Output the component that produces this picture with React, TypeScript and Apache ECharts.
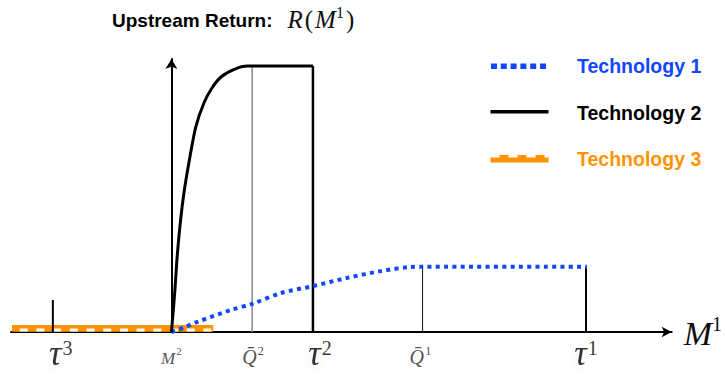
import React, { useEffect, useRef } from "react";
import * as echarts from "echarts";

// Conceptual units: x = output M^1 (M^2 at 0), y = upstream return
const tech1X = [0, 2.6, 5.2, 12, 16.2, 22, 28.4, 35.2, 42, 48, 50.4, 83.4];
const tech1Y = [0, 1.7, 3.7, 8.1, 10.3, 14.3, 16.8, 19.8, 22.3, 23.8, 23.9, 23.9];

const tech2X = [0, 0.26, 0.7, 1.1, 1.7, 2.5, 3.6, 4.9, 6.5, 8.1, 10, 12.6, 15.2, 16.2, 28.4];
const tech2Y = [0, 5.6, 15.4, 26.4, 38.6, 50.8, 63.0, 75.2, 83.8, 89.3, 93.5, 96.2, 97.4, 97.4, 97.4];

const tech3X = [-32, 8.4];
const tech3Y = [1.3, 1.3];

// threshold markers on the M^1 axis
const markerKeys = ["tau3", "M2", "Qbar2", "tau2", "Qbar1", "tau1"];
const markerX = [-23.8, 0, 16.2, 28.4, 50.4, 83.2];
const markerTop = [11.7, 0, 97.4, 97.4, 23.9, 23.9];
const markerLabels = [
  "{t|τ}{ts|3}",
  "{m|M}{ms|2}",
  "{q|Q\u0304}{qs|2}",
  "{t|τ}{ts|2}",
  "{q|Q\u0304}{qs|1}",
  "{t|τ}{ts|1}",
];

const legendNames = ["Technology 1", "Technology 2", "Technology 3"];

const BLUE = "#1346ff";
const ORANGE = "#ff9300";

const verticalStyle: Record<string, { color: string; width: number }> = {
  tau3: { color: "#000", width: 2 },
  Qbar2: { color: "#8a8a8a", width: 1.5 },
  tau2: { color: "#000", width: 2.5 },
  Qbar1: { color: "#111", width: 1 },
  tau1: { color: "#000", width: 2 },
};
const labelOffset: Record<string, [number, number]> = {
  tau3: [8, 1],
  M2: [0, 7],
  Qbar2: [1, 5],
  tau2: [7, 1],
  Qbar1: [-2, 5],
  tau1: [0, 1],
};

const SERIF = '"Liberation Serif", "DejaVu Serif", serif';
const SANS = '"Liberation Sans", Arial, Helvetica, sans-serif';

export default function App() {
  const ref = useRef<HTMLDivElement>(null);
  useEffect(() => {
    document.body.style.margin = "0";
    if (!ref.current) return;
    const chart = echarts.init(ref.current, null, { renderer: "svg" });

    const verticalSeries = markerKeys
      .map((k, i) => ({ k, i }))
      .filter(({ i }) => markerTop[i] > 0)
      .map(({ k, i }) => ({
        type: "line",
        name: "v-" + k,
        z: 4,
        silent: true,
        symbol: "none",
        data: [
          [markerX[i], 0],
          [markerX[i], markerTop[i]],
        ],
        lineStyle: { color: verticalStyle[k].color, width: verticalStyle[k].width, cap: "butt" },
      }));

    const legendY = [66.3, 111.7, 158.8];
    const graphic: any[] = [
      {
        type: "line",
        shape: { x1: 491, y1: legendY[0], x2: 547, y2: legendY[0] },
        style: { stroke: BLUE, lineWidth: 5.5, lineDash: [6, 3.8] },
      },
      {
        type: "line",
        shape: { x1: 490.5, y1: legendY[1], x2: 548.5, y2: legendY[1] },
        style: { stroke: "#000", lineWidth: 3.5 },
      },
      {
        type: "line",
        shape: { x1: 490.5, y1: legendY[2], x2: 548.5, y2: legendY[2] },
        style: { stroke: ORANGE, lineWidth: 7.5 },
      },
      {
        type: "line",
        shape: { x1: 490.5, y1: legendY[2] - 2.6, x2: 548.5, y2: legendY[2] - 2.6 },
        style: { stroke: "#fff", lineWidth: 2.4, lineDash: [9, 9], lineDashOffset: 0 },
      },
    ];
    const legendColors = [BLUE, "#000", ORANGE];
    legendNames.forEach((n, i) => {
      graphic.push({
        type: "text",
        x: 577,
        y: [66, 113.3, 159][i],
        style: {
          text: n,
          fill: legendColors[i],
          fontSize: 19.5,
          fontWeight: "bold",
          fontFamily: SANS,
          verticalAlign: "middle",
          align: "left",
        },
      });
    });

    chart.setOption({
      animation: false,
      backgroundColor: "#fff",
      title: {
        left: 112,
        top: 2,
        padding: 0,
        text: "{b|Upstream Return:}{r0|R}{p|(}{r|M}{s|1}{p|)}",
        textStyle: {
          fontWeight: "normal",
          rich: {
            b: { fontFamily: SANS, fontWeight: "bold", fontSize: 19, color: "#000", lineHeight: 30, verticalAlign: "bottom", padding: [0, 0, 2, 0] },
            r0: { fontFamily: SERIF, fontStyle: "italic", fontWeight: "normal", fontSize: 25, color: "#111", lineHeight: 30, verticalAlign: "bottom", padding: [0, 0, 0, 15] },
            r: { fontFamily: SERIF, fontStyle: "italic", fontWeight: "normal", fontSize: 25, color: "#111", lineHeight: 30, verticalAlign: "bottom" },
            p: { fontFamily: SERIF, fontWeight: "normal", fontSize: 25, color: "#111", lineHeight: 30, verticalAlign: "bottom", padding: [0, 2, 0, 2] },
            s: { fontFamily: SERIF, fontWeight: "normal", fontSize: 16, color: "#111", lineHeight: 30, verticalAlign: "top", padding: [2, 0, 0, 0] },
          },
        },
      },
      grid: { left: 11, right: 51, top: 59, bottom: 44, containLabel: false },
      xAxis: {
        type: "value",
        min: -32.2,
        max: 100.4,
        splitLine: { show: false },
        axisTick: { show: false },
        axisLabel: { show: false },
        axisLine: {
          show: true,
          onZero: true,
          symbol: ["none", "arrow"],
          symbolSize: [8, 10],
          lineStyle: { color: "#000", width: 2 },
        },
        name: "{m|M}{s|1}",
        nameLocation: "end",
        nameGap: 12,
        nameTextStyle: {
          rich: {
            m: { fontFamily: SERIF, fontStyle: "italic", fontSize: 34, color: "#111", lineHeight: 36, verticalAlign: "bottom" },
            s: { fontFamily: SERIF, fontSize: 20, color: "#111", lineHeight: 36, verticalAlign: "top" },
          },
        },
      },
      yAxis: {
        type: "value",
        min: 0,
        max: 100,
        z: 3,
        splitLine: { show: false },
        axisTick: { show: false },
        axisLabel: { show: false },
        axisLine: {
          show: true,
          onZero: true,
          symbol: ["none", "arrow"],
          symbolSize: [9, 10],
          lineStyle: { color: "#000", width: 2 },
        },
      },
      graphic,
      series: [
        {
          type: "line",
          name: "Technology 3",
          z: 1,
          silent: true,
          symbol: "none",
          data: tech3X.map((x, i) => [x, tech3Y[i]]),
          lineStyle: { color: ORANGE, width: 6.8, cap: "butt" },
        },
        {
          type: "line",
          name: "Technology 3 stripes",
          z: 1,
          silent: true,
          symbol: "none",
          data: tech3X.map((x, i) => [x, tech3Y[i] - 0.6]),
          lineStyle: { color: "#fff", width: 3, type: [8, 8.7], dashOffset: 8.7, cap: "butt" },
        },
        ...verticalSeries,
        {
          type: "line",
          name: "Technology 1",
          z: 5,
          silent: true,
          symbol: "none",
          smooth: 0.3,
          data: tech1X.map((x, i) => [x, tech1Y[i]]),
          lineStyle: { color: BLUE, width: 4, type: [4, 4.3], cap: "butt" },
        },
        {
          type: "line",
          name: "Technology 2",
          z: 5,
          silent: true,
          symbol: "none",
          smooth: 0.25,
          data: tech2X.map((x, i) => [x, tech2Y[i]]),
          lineStyle: { color: "#000", width: 3, cap: "butt", join: "round" },
        },
        {
          type: "scatter",
          name: "markers",
          z: 6,
          silent: true,
          symbolSize: 1,
          itemStyle: { color: "rgba(0,0,0,0)" },
          data: markerKeys.map((k, i) => ({
            value: [markerX[i], 0],
            label: { offset: labelOffset[k] },
          })),
          label: {
            show: true,
            position: "bottom",
            distance: 3,
            formatter: (p: any) => markerLabels[p.dataIndex],
            rich: {
              t: { fontFamily: SERIF, fontStyle: "italic", fontSize: 35, color: "#000", lineHeight: 34, verticalAlign: "bottom", textShadowColor: "rgba(0,0,0,0.12)", textShadowBlur: 8, textShadowOffsetY: 3 },
              ts: { fontFamily: SERIF, fontSize: 20, color: "#000", lineHeight: 34, verticalAlign: "top", padding: [1, 0, 0, 1] },
              m: { fontFamily: SERIF, fontStyle: "italic", fontSize: 17, color: "#222", lineHeight: 24, verticalAlign: "bottom" },
              ms: { fontFamily: SERIF, fontSize: 11, color: "#222", lineHeight: 24, verticalAlign: "top", padding: [3, 0, 0, 1] },
              q: { fontFamily: SERIF, fontStyle: "italic", fontSize: 20, color: "#222", lineHeight: 26, verticalAlign: "bottom" },
              qs: { fontFamily: SERIF, fontSize: 13, color: "#222", lineHeight: 26, verticalAlign: "top", padding: [3, 0, 0, 1] },
            },
          },
        },
      ],
    });
    return () => chart.dispose();
  }, []);
  return <div ref={ref} style={{ width: 725, height: 376 }} />;
}
